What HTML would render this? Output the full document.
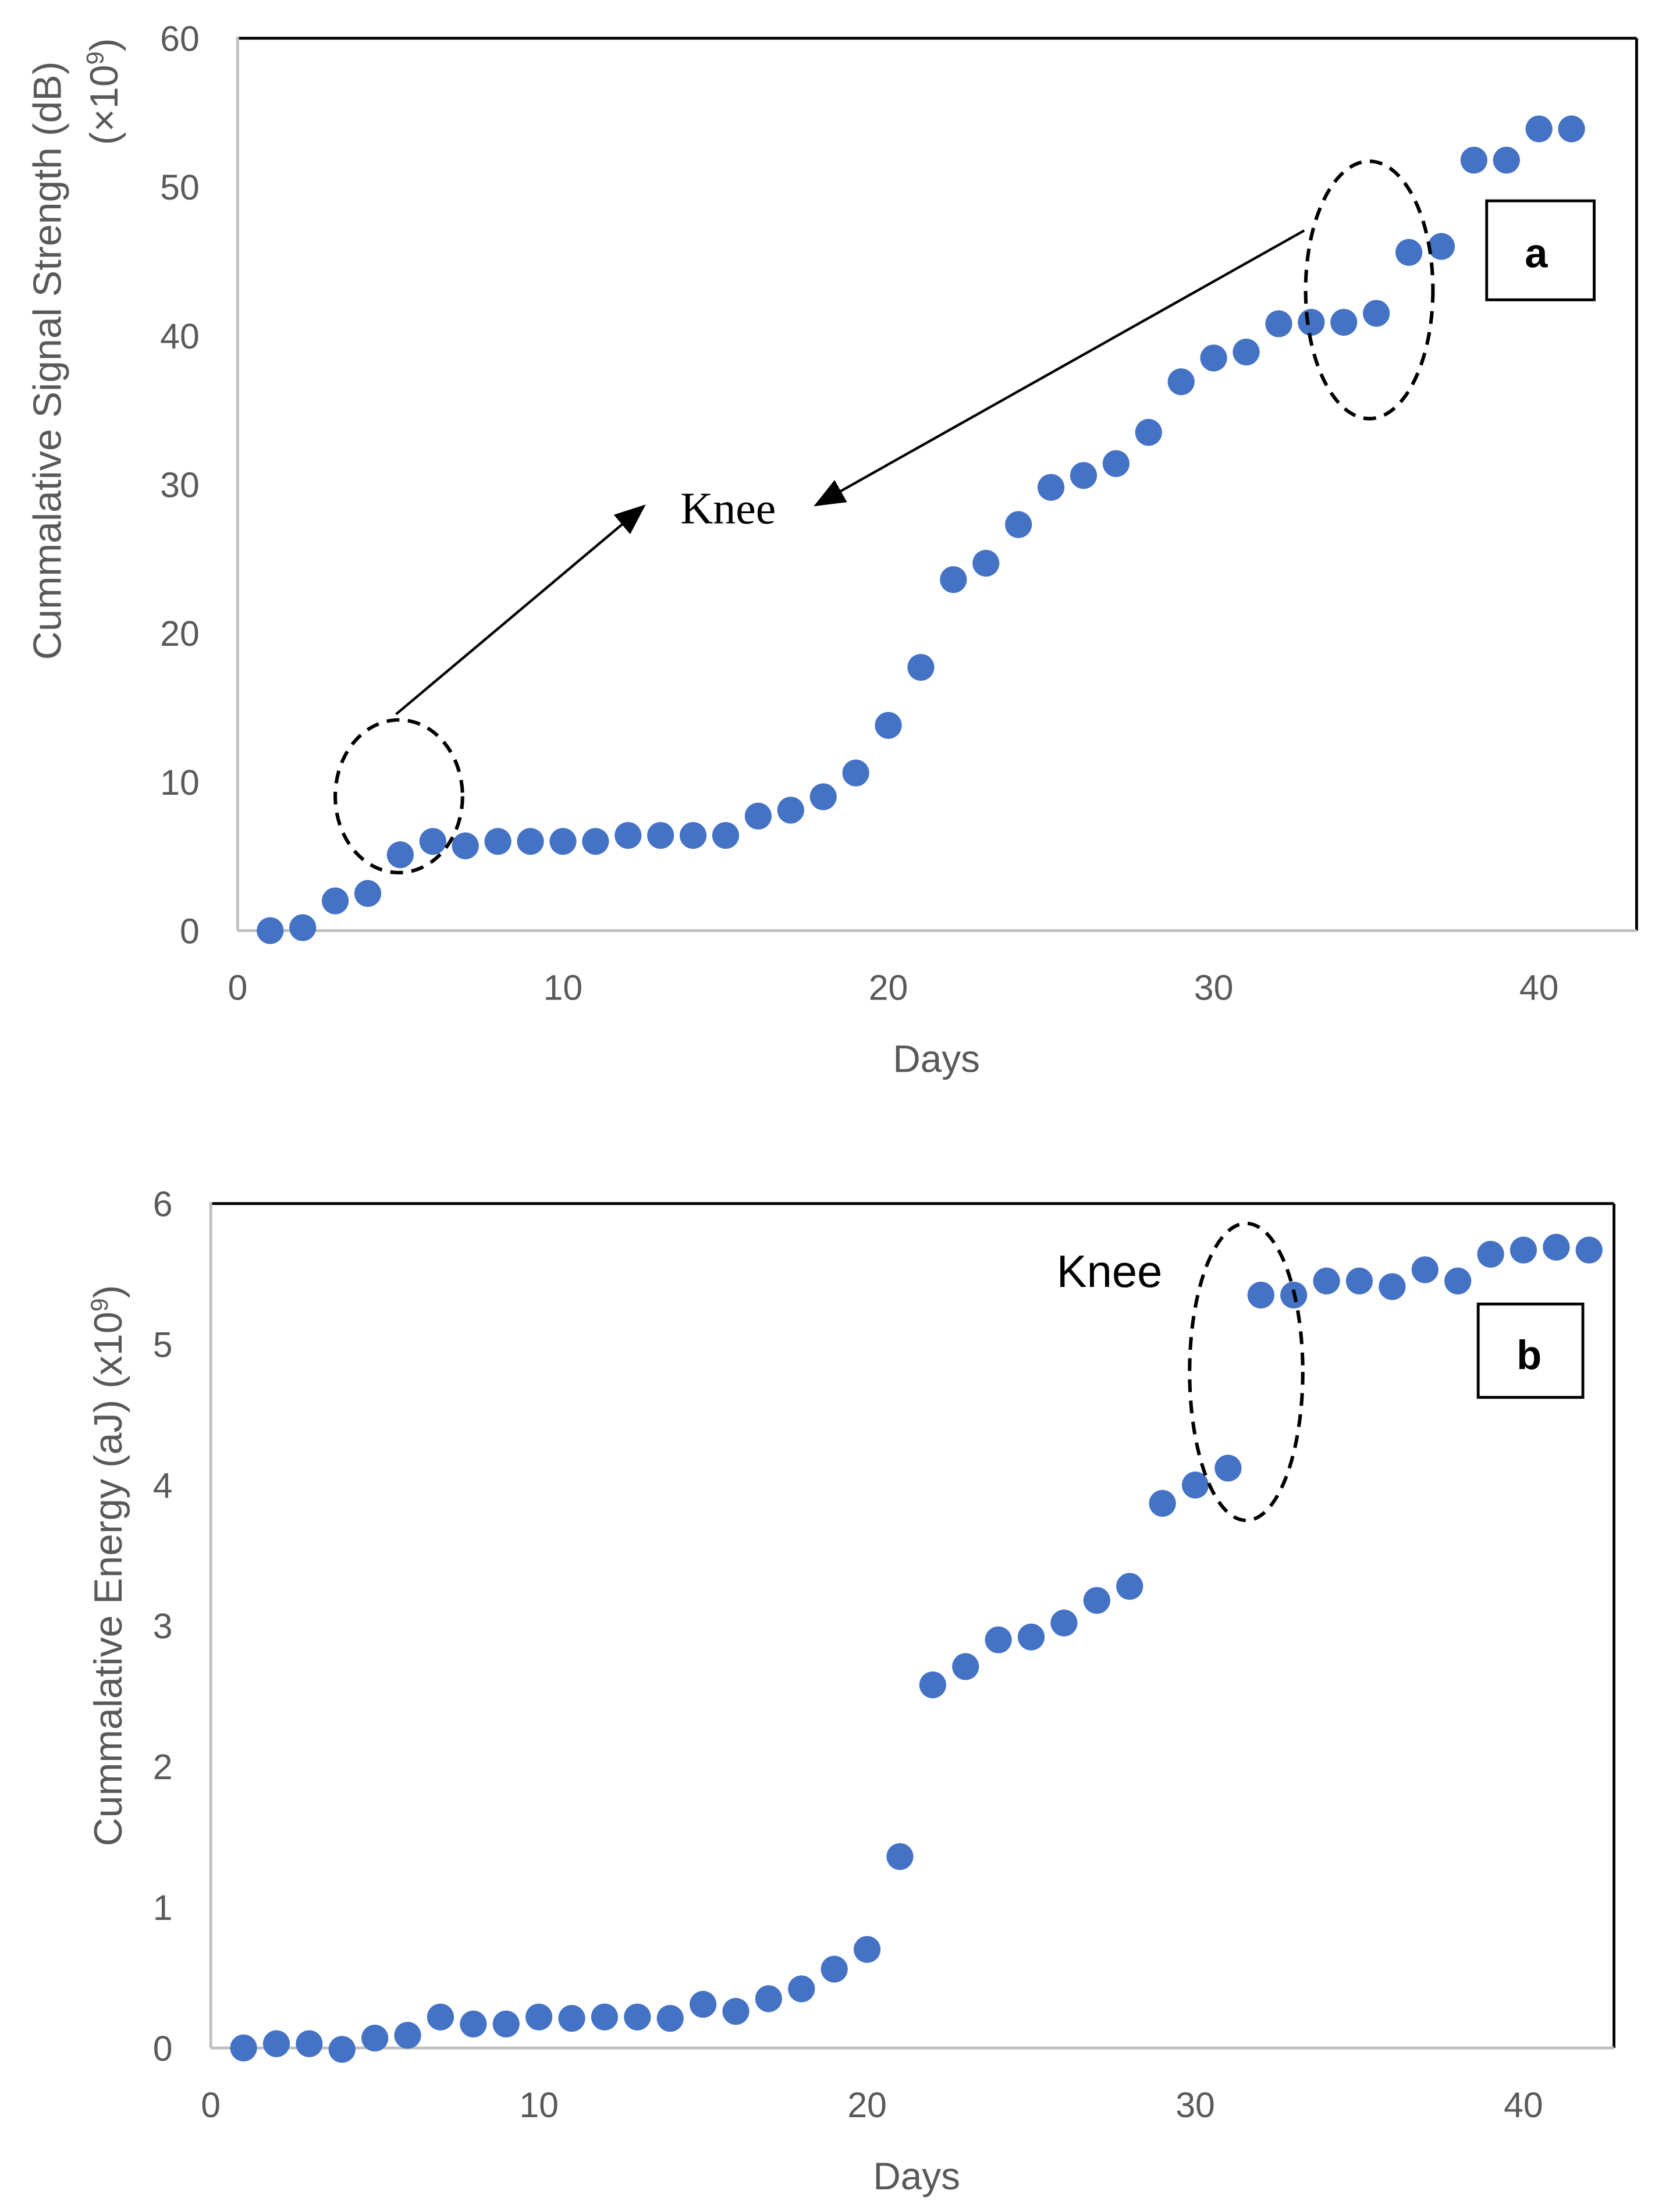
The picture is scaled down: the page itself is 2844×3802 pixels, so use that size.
<!DOCTYPE html>
<html><head><meta charset="utf-8"><style>html,body{margin:0;padding:0;background:#fff}svg{display:block}</style></head>
<body>
<svg id="fig" xmlns="http://www.w3.org/2000/svg" width="2844" height="3802" viewBox="0 0 1170 1564" preserveAspectRatio="none" font-family="'Liberation Sans', sans-serif">
<rect width="1170" height="1564" fill="#fff"/>
<g id="ca"></g>
<g id="cb"></g>
</svg>
<script>
const daysA = Array.from({length:41},(_, i)=>i+1);
const valuesA = [0,0.2,2,2.5,5.1,6,5.7,6,6,6,6,6.4,6.4,6.4,6.4,7.7,8.1,9,10.6,13.8,17.7,23.6,24.7,27.3,29.8,30.6,31.4,33.5,36.9,38.5,38.9,40.8,40.9,40.9,41.5,45.6,46,51.8,51.8,53.9,53.9];
const xTicksA = [0,10,20,30,40];
const yTicksA = [0,10,20,30,40,50,60];
const daysB = Array.from({length:42},(_, i)=>i+1);
const valuesB = [0,0.03,0.03,-0.01,0.07,0.09,0.22,0.17,0.17,0.22,0.21,0.22,0.22,0.21,0.31,0.26,0.35,0.42,0.56,0.7,1.36,2.58,2.71,2.9,2.92,3.02,3.18,3.28,3.87,4.0,4.12,5.35,5.35,5.45,5.45,5.41,5.53,5.45,5.64,5.67,5.69,5.67];
const xTicksB = [0,10,20,30,40];
const yTicksB = [0,1,2,3,4,5,6];

const NS='http://www.w3.org/2000/svg';
function mk(parent,tag,attrs,text){const e=document.createElementNS(NS,tag);for(const k in attrs)e.setAttribute(k,attrs[k]);if(text!==undefined)e.textContent=text;parent.appendChild(e);return e;}

function chart(g,cfg,days,vals,xt,yt){
  const sx=v=>cfg.x0+(v-cfg.xmin)*(cfg.x1-cfg.x0)/(cfg.xmax-cfg.xmin);
  const sy=v=>cfg.y0-(v-cfg.ymin)*(cfg.y0-cfg.y1)/(cfg.ymax-cfg.ymin);
  const top=sy(cfg.ymax);
  let l=mk(g,'line',{x1:cfg.x0,y1:top,x2:cfg.right,y2:top,stroke:'#000','stroke-width':2});
  
  
  l=mk(g,'line',{x1:cfg.right,y1:top,x2:cfg.right,y2:cfg.y0,stroke:'#000','stroke-width':2});
  
  
  l=mk(g,'line',{x1:cfg.x0,y1:top-1,x2:cfg.x0,y2:cfg.y0,stroke:'#bfbfbf','stroke-width':2});
  
  
  l=mk(g,'line',{x1:cfg.x0,y1:cfg.y0,x2:cfg.right,y2:cfg.y0,stroke:'#bfbfbf','stroke-width':2});
  
  
  xt.forEach(v=>{const t=mk(g,'text',{x:sx(v),y:cfg.y0+49,'text-anchor':'middle','font-size':25,fill:'#595959'},v);
    
    });
  yt.forEach(v=>{const t=mk(g,'text',{x:cfg.x0-27,y:sy(v)+9,'text-anchor':'end','font-size':25,fill:'#595959'},v);
    
    });
  days.forEach((d,i)=>{const c=mk(g,'circle',{cx:sx(d),cy:sy(vals[i]),r:9.5,fill:'#4472c4'});
    
    });
}
const ga=document.getElementById('ca'), gb=document.getElementById('cb');
chart(ga,{x0:168,x1:1088,xmin:0,xmax:40,y0:658,y1:27,ymin:0,ymax:60,right:1157},daysA,valuesA,xTicksA,yTicksA);
chart(gb,{x0:149,x1:1077,xmin:0,xmax:40,y0:1448,y1:851,ymin:0,ymax:6,right:1141},daysB,valuesB,xTicksB,yTicksB);
</script>
<script>
(function(){
const svg=document.getElementById('fig');
svg.insertAdjacentHTML('beforeend',`
<defs><marker id="ah2" markerWidth="22" markerHeight="18" refX="20" refY="9" orient="auto" markerUnits="userSpaceOnUse"><path d="M0,0 L22,9 L0,18 Z" fill="#000"/></marker></defs>
<text x="662" y="758" text-anchor="middle" font-size="27" fill="#595959">Days</text>
<text transform="translate(43,255) rotate(-90)" text-anchor="middle" font-size="28" fill="#595959">Cummalative Signal Strength (dB)</text>
<text transform="translate(83,27) rotate(-90)" text-anchor="end" font-size="28" fill="#595959">(×10<tspan font-size="17" dy="-10">9</tspan><tspan dy="10">)</tspan></text>
<ellipse cx="282" cy="563" rx="45" ry="54" fill="none" stroke="#000" stroke-width="2.5" stroke-dasharray="9,6"/>
<ellipse cx="968" cy="205" rx="45" ry="91" fill="none" stroke="#000" stroke-width="2.5" stroke-dasharray="9,6"/>
<line x1="280" y1="505" x2="455" y2="358" stroke="#000" stroke-width="1.8" marker-end="url(#ah2)"/>
<line x1="922" y1="163" x2="577" y2="357" stroke="#000" stroke-width="1.8" marker-end="url(#ah2)"/>
<text x="481" y="370" font-family="'Liberation Serif', serif" font-size="32" fill="#000">Knee</text>
<rect x="1051" y="142" width="76" height="70" fill="#fff" stroke="#000" stroke-width="2"/>
<text x="1086" y="189" text-anchor="middle" font-weight="bold" font-size="29">a</text>
<text x="648" y="1548" text-anchor="middle" font-size="27" fill="#595959">Days</text>
<text transform="translate(86,1107) rotate(-90)" text-anchor="middle" font-size="28" fill="#595959">Cummalative Energy (aJ) (x10<tspan font-size="17" dy="-10">9</tspan><tspan dy="10">)</tspan></text>
<ellipse cx="881" cy="970" rx="40" ry="105" fill="none" stroke="#000" stroke-width="2.5" stroke-dasharray="9,6"/>
<text x="747" y="910" font-size="32" fill="#000">Knee</text>
<rect x="1045" y="922" width="74" height="66" fill="#fff" stroke="#000" stroke-width="2"/>
<text x="1081" y="968" text-anchor="middle" font-weight="bold" font-size="29">b</text>
`);
})();
</script>
</body></html>
